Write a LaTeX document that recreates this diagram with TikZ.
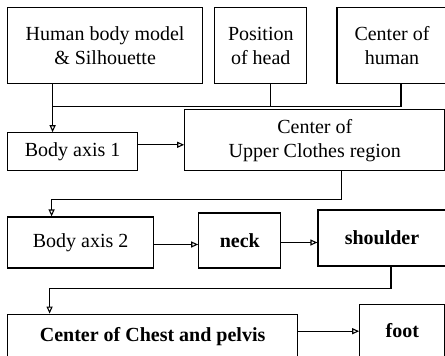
\documentclass[tikz,border=0pt]{standalone}
\usepackage{fontspec}
\setmainfont{Liberation Serif}
\usetikzlibrary{arrows.meta, positioning, calc}

\begin{document}
\begin{tikzpicture}[
    node distance=11pt and 11pt,
    >={Triangle[open, length=7pt, width=6pt]},
    font=\fontsize{20}{24}\selectfont,
    box/.style={draw, align=center, line width=1.2pt, inner sep=2pt},
    link/.style={line width=1.1pt},
    arrow/.style={->, line width=1.1pt}
  ]
    \useasboundingbox (0,0) rectangle (445pt,-356pt);
    \node[box, minimum width=195pt, minimum height=76pt, anchor=north west] (model) at (7pt,-7pt)
    {Human body model\\ \& Silhouette};
    \node[box, minimum width=92pt, minimum height=76pt, right=11pt of model] (head)
    {Position\\ of head};
    \node[box, minimum width=110pt, minimum height=76pt, right=29pt of head] (human)
    {Center of\\ human};
    \node[box, minimum width=130pt, minimum height=38pt, below=48pt of model.south west, anchor=north west] (axisone)
    {Body axis 1};
    \node[box, minimum width=260pt, minimum height=61pt, right=46pt of axisone.south east, anchor=south west] (upper)
    {Center of\\ Upper Clothes region};
    \node[box, minimum width=146pt, minimum height=51pt, below=45pt of axisone.south west, anchor=north west] (axistwo)
    {Body axis 2};
    \node[box, minimum width=82pt, minimum height=55pt, right=44pt of axistwo.south east, anchor=south west] (neck)
    {\textbf{neck}};
    \node[box, minimum width=128pt, minimum height=56pt, right=36pt of neck.south east, anchor=south west, yshift=2pt] (shoulder)
    {\textbf{shoulder}};
    \node[box, minimum width=290pt, minimum height=44pt, below=45pt of axistwo.south west, anchor=north west] (chest)
    {\textbf{Center of Chest and pelvis}};
    \node[box, minimum width=85pt, minimum height=53pt, right=61pt of chest.south east, anchor=south west, yshift=1pt] (foot)
    {\textbf{foot}};
    % joining the three inputs
    \coordinate (join) at ($(model.south)+(-52.5pt,-22pt)$);
    \draw[link] ([xshift=9pt]human.south) |- (join);
    \draw[link] ([xshift=10pt]head.south) -- ++(0,-22pt);
    \draw[arrow] ([xshift=-52.5pt]model.south) -- (join) -- (axisone.north -| join);
    \draw[arrow] ([yshift=7pt]axisone.east) -- ([yshift=7pt]axisone.east -| upper.west);
    \draw[arrow] ([xshift=27pt]upper.south) -- ++(0,-28pt) -| ([xshift=-29pt]axistwo.north);
    \draw[arrow] ([yshift=-2pt]axistwo.east) -- ([yshift=-2pt]axistwo.east -| neck.west);
    \draw[arrow] ([yshift=-2pt]neck.east) -- ([yshift=-2pt]neck.east -| shoulder.west);
    \draw[arrow] ([xshift=9pt]shoulder.south) -- ++(0,-22pt) -| ([xshift=-103pt]chest.north);
    \draw[arrow] ([yshift=5pt]chest.east) -- ([yshift=5pt]chest.east -| foot.west);
\end{tikzpicture}
\end{document}
